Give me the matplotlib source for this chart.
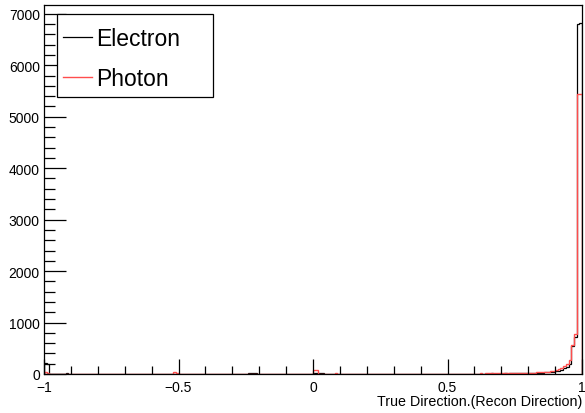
import matplotlib
matplotlib.use("Agg")
import matplotlib.pyplot as plt
from matplotlib.ticker import MultipleLocator
from matplotlib.patches import Rectangle
import numpy as np

plt.rcParams['font.family'] = ['Liberation Sans', 'DejaVu Sans']

# 200 bins from -1 to 1
edges = np.linspace(-1, 1, 201)

electron = [210, 200, 6, 4, 8, 5, 3, 7, 10, 4, 6, 9, 5, 4, 8, 6, 3, 5, 7, 4,
            5, 8, 4, 6, 3, 7, 5, 9, 4, 6, 8, 5, 3, 6, 4, 7, 5, 4, 6, 3,
            4, 6, 3, 5, 7, 4, 6, 3, 5, 8, 6, 4, 3, 5, 4, 6, 3, 4, 5, 3,
            4, 3, 5, 4, 6, 3, 4, 5, 3, 6, 4, 3, 5, 4, 3, 6, 18, 22, 20, 5,
            3, 4, 5, 3, 4, 6, 3, 5, 4, 3, 5, 4, 6, 3, 4, 5, 3, 6, 4, 5,
            20, 25, 22, 20, 5, 4, 6, 3, 5, 4, 6, 5, 3, 4, 6, 5, 4, 3, 5, 6,
            4, 5, 3, 6, 4, 5, 6, 4, 3, 5, 6, 4, 5, 7, 4, 6, 5, 4, 6, 5,
            6, 5, 8, 4, 6, 5, 7, 6, 5, 8, 6, 7, 5, 8, 6, 7, 9, 6, 7, 8,
            6, 8, 5, 9, 7, 6, 10, 8, 7, 9, 8, 10, 9, 12, 10, 11, 12, 13, 14, 14,
            15, 16, 18, 20, 22, 26, 30, 35, 40, 45, 55, 65, 85, 110, 140, 195, 545, 720, 6800, 6830]

photon = [30, 25, 2, 3, 1, 2, 3, 2, 1, 3, 2, 1, 2, 3, 2, 1, 2, 2, 3, 1,
          2, 1, 3, 2, 2, 1, 3, 2, 1, 2, 3, 1, 2, 2, 1, 3, 2, 1, 2, 2,
          1, 2, 3, 1, 2, 2, 1, 3, 30, 28, 2, 1, 2, 3, 1, 2, 2, 1, 3, 2,
          2, 1, 3, 2, 1, 2, 2, 3, 1, 2, 1, 3, 2, 2, 1, 2, 6, 8, 5, 2,
          1, 2, 2, 3, 1, 2, 3, 1, 2, 2, 3, 1, 2, 1, 3, 2, 2, 1, 3, 4,
          80, 70, 4, 3, 2, 3, 2, 1, 20, 3, 2, 3, 1, 2, 3, 2, 2, 3, 1, 2,
          2, 3, 1, 2, 3, 2, 2, 3, 1, 2, 3, 2, 4, 2, 3, 2, 3, 4, 2, 3,
          3, 4, 3, 5, 4, 3, 5, 4, 6, 5, 4, 6, 5, 7, 6, 5, 7, 8, 6, 7,
          8, 9, 10, 8, 11, 10, 12, 11, 12, 13, 12, 14, 13, 15, 14, 16, 17, 18, 19, 20,
          22, 25, 27, 30, 33, 36, 42, 48, 55, 65, 80, 100, 120, 160, 190, 270, 560, 780, 5440, 5450]

labels = ['Electron', 'Photon']
colors = ['black', '#ff4d4d']

fig = plt.figure(figsize=(5.85, 4.14), dpi=100)
ax = fig.add_axes([44/585, 39/414, 538/585, 369/414])

ax.stairs(electron, edges, color=colors[0], lw=0.9, label=labels[0])
ax.stairs(photon, edges, color=colors[1], lw=1.0, label=labels[1])

ax.set_xlim(-1, 1)
ax.set_ylim(0, 1.05 * max(electron))

ax.xaxis.set_major_locator(MultipleLocator(0.5))
ax.xaxis.set_minor_locator(MultipleLocator(0.1))
ax.yaxis.set_major_locator(MultipleLocator(1000))
ax.yaxis.set_minor_locator(MultipleLocator(200))
ax.xaxis.set_major_formatter(plt.FuncFormatter(
    lambda v, p: ('%g' % v).replace('-', '\u2212') if abs(v) > 1e-9 else '0'))

ax.tick_params(axis='both', which='both', direction='in', labelsize=10, width=0.9)
ax.tick_params(axis='y', which='major', length=16, pad=3, right=False)
ax.tick_params(axis='y', which='minor', length=8, right=False)
ax.tick_params(axis='x', which='major', length=11, pad=4, top=False)
ax.tick_params(axis='x', which='minor', length=6, top=False)

for s in ax.spines.values():
    s.set_linewidth(0.9)

ax.set_xlabel('True Direction.(Recon Direction)', fontsize=10.3, loc='right', labelpad=0)

# legend box (ROOT TLegend style)
box = Rectangle((57/585, 1 - 98/414), 156/585, 83/414,
                transform=fig.transFigure, facecolor='white',
                edgecolor='black', linewidth=0.9, zorder=5, clip_on=False)
ax.add_patch(box)
leg = ax.legend(loc='upper left', bbox_to_anchor=(56/585, 1 - 21/414),
                bbox_transform=fig.transFigure, borderaxespad=0,
                fontsize=16.5, frameon=False, handlelength=1.25,
                handletextpad=0.22, borderpad=0.3, labelspacing=0.73)
leg.set_zorder(6)

fig.savefig('out.png', dpi=100)
